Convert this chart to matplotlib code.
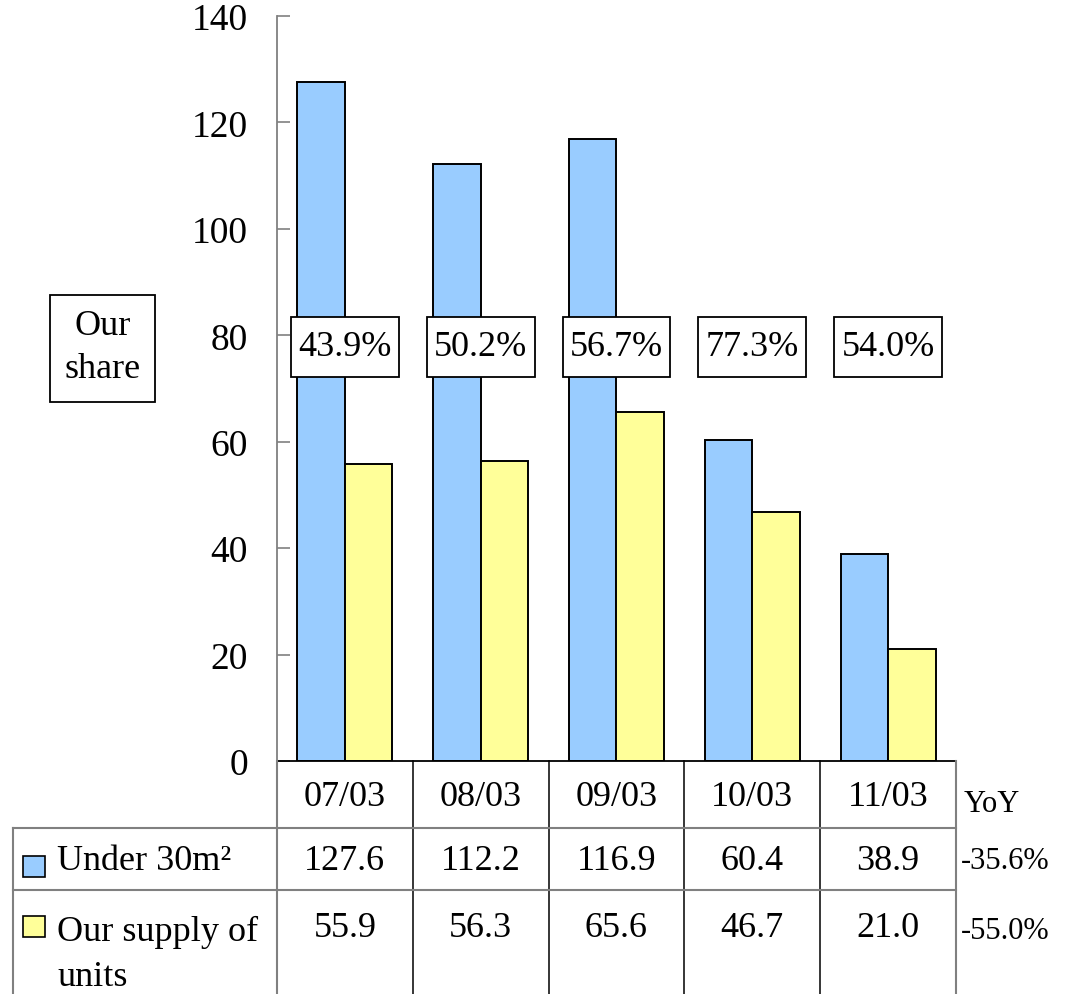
import matplotlib
matplotlib.use("Agg")
import matplotlib.pyplot as plt
import matplotlib.transforms as mtransforms
from matplotlib.lines import Line2D
from matplotlib.patches import Rectangle

plt.rcParams['font.family'] = ['Liberation Serif', 'DejaVu Serif']

# Data
periods = ["07/03", "08/03", "09/03", "10/03", "11/03"]
under_30 = [127.6, 112.2, 116.9, 60.4, 38.9]
our_supply = [55.9, 56.3, 65.6, 46.7, 21.0]
our_share = ["43.9%", "50.2%", "56.7%", "77.3%", "54.0%"]
yoy = ["-35.6%", "-55.0%"]
series_names = ["Under 30m\u00b2", "Our supply of\nunits"]
yticks = [0, 20, 40, 60, 80, 100, 120, 140]

blue = "#99CCFF"
yellow = "#FFFF99"
grey = "#808080"

W, H = 1071, 995
fig = plt.figure(figsize=(W / 100, H / 100), dpi=100)


def fx(px):
    return px / W


def fy(py):
    return 1 - py / H


ax = fig.add_axes([fx(277), fy(762), fx(956) - fx(277), fy(17) - fy(762)])

x = list(range(len(periods)))
bw = 0.35
ax.bar([i - bw / 2 for i in x], under_30, width=bw, color=blue,
       edgecolor="black", linewidth=1.4, zorder=2)
ax.bar([i + bw / 2 for i in x], our_supply, width=bw, color=yellow,
       edgecolor="black", linewidth=1.4, zorder=2)

ax.set_xlim(-0.5, len(periods) - 0.5)
ax.set_ylim(0, 140)
ax.set_yticks(yticks)
ax.set_xticks([])
ax.tick_params(axis="y", direction="in", length=9, width=1.2, color=grey,
               labelsize=27, pad=21)
for s in ["top", "right"]:
    ax.spines[s].set_visible(False)
ax.spines["left"].set_color(grey)
ax.spines["left"].set_linewidth(1.3)
ax.spines["bottom"].set_color("black")
ax.spines["bottom"].set_linewidth(1.3)

# share boxes across the bars
box_w, box_h, box_y = 0.795, 11.3, 77.8
for i, s in enumerate(our_share):
    ax.add_patch(Rectangle((i - box_w / 2, box_y - box_h / 2), box_w, box_h,
                           facecolor="white", edgecolor="black",
                           linewidth=1.3, zorder=4))
    ax.text(i, box_y, s, ha="center", va="center", fontsize=26, zorder=5)

fig.add_artist(Rectangle((fx(50), fy(403)), fx(155) - fx(50), fy(296) - fy(403),
                         transform=fig.transFigure, facecolor="white",
                         edgecolor="black", linewidth=1.3))
fig.text(fx(103), fy(348), "Our\nshare", ha="center", va="center",
         fontsize=26, multialignment="center", linespacing=1.4)

# data table below the axis
colx = mtransforms.blended_transform_factory(ax.transData, fig.transFigure)

rows_y = [fy(762), fy(829), fy(891)]
edges = [i - 0.5 for i in range(len(periods) + 1)]
for e in edges[1:-1]:
    fig.add_artist(Line2D([e, e], [fy(762), 0], transform=colx,
                          color="black", linewidth=1.1))
for e in (edges[0], edges[-1]):
    fig.add_artist(Line2D([e, e], [fy(762), 0], transform=colx,
                          color=grey, linewidth=1.5))
fig.add_artist(Line2D([fx(13), fx(13)], [fy(829), 0],
                      transform=fig.transFigure, color=grey, linewidth=1.5))
for yy in rows_y[1:]:
    fig.add_artist(Line2D([fx(13), fx(956)], [yy, yy],
                          transform=fig.transFigure, color=grey, linewidth=1.5))

for i, p in enumerate(periods):
    fig.text(i, fy(798), p, transform=colx, ha="center", va="center",
             fontsize=26)
    fig.text(i, fy(862), f"{under_30[i]:.1f}", transform=colx, ha="center",
             va="center", fontsize=26)
    fig.text(i, fy(929), f"{our_supply[i]:.1f}", transform=colx, ha="center",
             va="center", fontsize=26)

# row labels with colour keys
fig.add_artist(Rectangle((fx(23), fy(878)), fx(45) - fx(23), fy(857) - fy(878),
                         transform=fig.transFigure, facecolor=blue,
                         edgecolor="black", linewidth=1.2))
fig.add_artist(Rectangle((fx(23), fy(938)), fx(45) - fx(23), fy(917) - fy(938),
                         transform=fig.transFigure, facecolor=yellow,
                         edgecolor="black", linewidth=1.2))
fig.text(fx(57), fy(862), series_names[0], ha="left", va="center", fontsize=26)
fig.text(fx(57), fy(955), series_names[1], ha="left", va="center", fontsize=26,
         linespacing=1.45)

# year-on-year column
fig.text(fx(964), fy(805), "YoY", ha="left", va="center", fontsize=22)
fig.text(fx(961), fy(862), yoy[0], ha="left", va="center", fontsize=22)
fig.text(fx(961), fy(932), yoy[1], ha="left", va="center", fontsize=22)

fig.savefig("out.png", dpi=100, facecolor="white")
